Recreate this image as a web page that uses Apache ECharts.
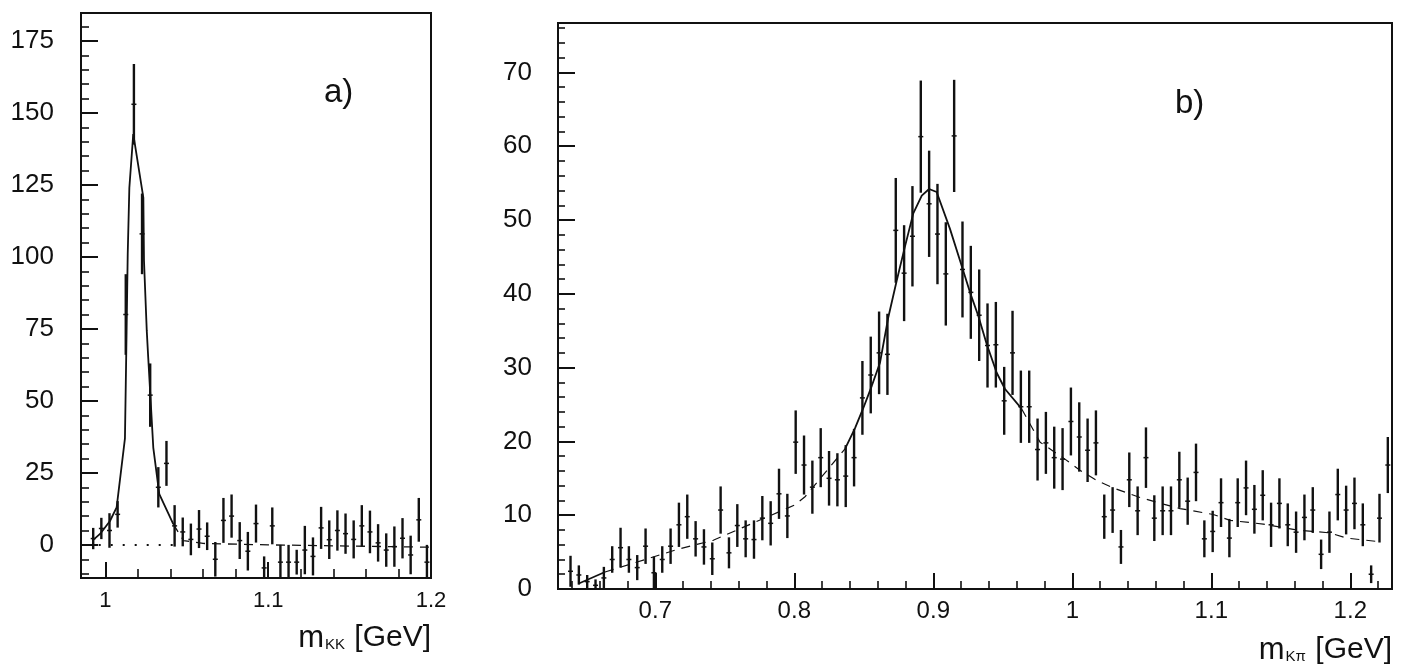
<!DOCTYPE html>
<html><head><meta charset="utf-8">
<script src="https://cdn.jsdelivr.net/npm/echarts@6/dist/echarts.min.js"></script>
<style>html,body{margin:0;padding:0;background:#fff}#c{width:1412px;height:668px}</style>
</head><body><div id="c"></div>
<script>
// ---------- Panel a: m_KK ----------
const massA = [0.9875,0.9925,0.9975,1.0025,1.0075,1.0125,1.0175,1.0225,1.0275,1.0325,
  1.0375,1.0425,1.0475,1.0525,1.0575,1.0625,1.0675,1.0725,1.0775,1.0825,
  1.0875,1.0925,1.0975,1.1025,1.1075,1.1125,1.1175,1.1225,1.1275,1.1325,
  1.1375,1.1425,1.1475,1.1525,1.1575,1.1625,1.1675,1.1725,1.1775,1.1825,
  1.1875,1.1925,1.1975];
const countsA = [null,2.2,5.7,5.0,10.6,80,153,108,52,20,
  28.3,6.6,4.5,1.9,5.5,3.0,-5.0,8.5,10.0,1.5,
  -2.2,7.4,-8.0,6.6,-6.0,-6.0,-6.0,-1.8,-4.0,5.9,
  1.8,5.0,3.9,1.9,6.6,4.5,0.7,-1.8,-0.6,2.3,
  -3.5,8.7,-6.0];
const errorsA = [null,3.7,3.7,6.0,4.6,14,14,14,11,7,
  7.8,7.2,5.0,5.5,6.6,4.8,6.0,7.8,7.5,6.4,
  6.7,6.6,4.0,6.4,6.0,6.0,4.3,8.4,6.6,7.3,
  6.7,7.0,7.0,6.6,7.2,7.4,6.5,5.8,7.0,7.0,
  6.7,7.6,6.0];
const fitPeakA = [[0.992,1.5],[0.9967,3.8],[1.0028,8.3],[1.0069,13],[1.0120,37],[1.0130,74],
  [1.0137,101],[1.0147,124],[1.0171,142.7],[1.0233,120.6],[1.0237,98.6],[1.0254,74.3],
  [1.0263,65],[1.0294,33.8],[1.0331,17.6],[1.0417,7.2]];
const fitTailA = [[1.0417,7.2],[1.048,1.5],[1.06,0.5],[1.1,0],[1.2,-0.8]];
const bkgA = [[0.9885,0],[1.0415,0]];
const xMajorA = [1, 1.1, 1.2];
const xMinorA = [1.02,1.04,1.06,1.08,1.12,1.14,1.16,1.18];
const yMajorA = [0,25,50,75,100,125,150,175];
const yMinorA = [-10,-5,5,10,15,20,30,35,40,45,55,60,65,70,80,85,90,95,105,110,115,120,130,135,140,145,155,160,165,170,180];

// ---------- Panel b: m_Kpi ----------
const massB = [0.633,0.639,0.645,0.651,0.657,0.663,0.669,0.675,0.681,0.687,
  0.693,0.699,0.705,0.711,0.717,0.723,0.729,0.735,0.741,0.747,
  0.753,0.759,0.765,0.771,0.777,0.783,0.789,0.795,0.801,0.807,
  0.813,0.819,0.825,0.831,0.837,0.843,0.849,0.855,0.861,0.867,
  0.873,0.879,0.885,0.891,0.897,0.903,0.909,0.915,0.921,0.927,
  0.933,0.939,0.945,0.951,0.957,0.963,0.969,0.975,0.981,0.987,
  0.993,0.999,1.005,1.011,1.017,1.023,1.029,1.035,1.041,1.047,
  1.053,1.059,1.065,1.071,1.077,1.083,1.089,1.095,1.101,1.107,
  1.113,1.119,1.125,1.131,1.137,1.143,1.149,1.155,1.161,1.167,
  1.173,1.179,1.185,1.191,1.197,1.203,1.209,1.215,1.221,1.227];
const countsB = [null,2.4,1.9,1.0,0.5,1.5,4.0,5.6,4.0,2.9,
  5.8,2.2,4.0,5.8,8.7,9.8,6.8,5.7,4.1,10.7,
  4.9,8.6,6.8,6.7,9.6,8.9,12.9,9.9,19.9,16.8,
  13.8,17.8,15.0,14.8,15.3,17.8,25.9,29.0,32.0,31.8,
  48.6,42.8,47.8,61.3,52.2,48.1,42.7,61.4,43.3,40.2,
  37.1,33.0,33.1,25.5,32.0,24.7,24.7,18.9,19.8,17.8,
  17.6,22.7,20.6,18.8,19.8,9.8,10.7,5.7,14.8,10.6,
  17.8,9.6,10.6,10.6,14.8,11.9,15.8,6.8,7.8,11.7,
  6.9,11.7,13.7,10.8,12.7,8.7,11.6,8.7,7.7,9.7,
  10.7,4.7,7.7,12.8,10.7,11.6,8.7,2.0,9.6,16.8];
const errorsB = [null,2.1,1.3,0.9,0.8,1.5,1.8,2.7,1.8,1.7,
  2.4,2.2,1.8,2.4,3.0,3.0,2.4,2.4,2.2,3.2,
  2.1,2.9,2.5,2.6,3.0,3.0,3.4,3.0,4.3,4.0,
  3.6,4.0,3.7,3.6,4.2,3.9,5.0,5.2,5.6,5.5,
  7.1,6.5,6.8,7.6,7.2,6.8,7.0,7.6,6.5,6.3,
  6.2,5.7,5.8,4.6,5.7,4.9,4.9,4.2,4.2,4.2,
  4.2,4.6,4.7,4.3,4.4,3.0,3.1,2.3,3.7,3.3,
  4.1,3.1,3.3,3.3,3.8,3.2,3.9,2.5,2.8,3.3,
  2.6,3.3,3.7,3.3,3.4,3.0,3.4,2.9,2.8,3.1,
  3.1,2.0,2.8,3.5,3.3,3.5,2.9,1.2,3.3,3.8];
const fitStartB = [[0.6446,0.7],[0.6638,2.3]];
const fitLowB = [[0.6638,2.3],[0.7165,5.4],[0.7417,6.6],[0.8005,11.4],[0.8077,12.5],[0.8365,19.0]];
const fitCoreB = [[0.8365,19.0],[0.8437,21.8],[0.8496,24.5],[0.8557,27.5],[0.8617,30.7],[0.8676,36.8],
  [0.8737,41.8],[0.8796,46.4],[0.8856,50.9],[0.8917,53.3],[0.897,54.2],[0.9024,53.8],[0.912,48.8],
  [0.9204,43.8],[0.9264,40.2],[0.9324,37],[0.9384,33.2],[0.9456,29.3],[0.9516,27.1],[0.9636,24.4]];
const fitHighB = [[0.9636,24.4],[0.9768,19.9],[0.9947,17.6],[1.0055,16.1],[1.0176,14.7],[1.0307,13.6],
  [1.0487,12.4],[1.0655,11.5],[1.0775,10.9],[1.1014,10.1],[1.1135,9.3],[1.1374,8.8],[1.1614,8.0],
  [1.1854,7.6],[1.1974,6.9],[1.2214,6.4]];
const xMajorB = [0.7,0.8,0.9,1,1.1,1.2];
const xMinorB = [0.64,0.66,0.68,0.72,0.74,0.76,0.78,0.82,0.84,0.86,0.88,0.92,0.94,0.96,0.98,1.02,1.04,1.06,1.08,1.12,1.14,1.16,1.18,1.22];
const yMajorB = [0,10,20,30,40,50,60,70];
const yMinorB = [2,4,6,8,12,14,16,18,22,24,26,28,32,34,36,38,42,44,46,48,52,54,56,58,62,64,66,68,72,74,76];

// ---------- drawing ----------
const INK = '#111';
const FONT = 'Liberation Sans';

function pts(mass, counts, errs){
  const out = [];
  for (let i = 0; i < mass.length; i++) if (counts[i] !== null) out.push([mass[i], counts[i], errs[i]]);
  return out;
}
function errBar(params, api){
  const x = api.value(0), v = api.value(1), e = api.value(2);
  const cs = params.coordSys;
  const p1 = api.coord([x, v + e]), p2 = api.coord([x, v - e]), pm = api.coord([x, v]);
  const top = Math.max(cs.y, p1[1]), bot = Math.min(cs.y + cs.height, p2[1]);
  const ch = [];
  if (bot > top) ch.push({type:'line', shape:{x1:p1[0], y1:top, x2:p1[0], y2:bot}, style:{stroke:INK, lineWidth:2.4}});
  if (pm[1] > cs.y && pm[1] < cs.y + cs.height)
    ch.push({type:'line', shape:{x1:pm[0]-2.5, y1:pm[1], x2:pm[0]+2.5, y2:pm[1]}, style:{stroke:INK, lineWidth:1.5}});
  return {type:'group', children:ch};
}
function axisPair(dim, gridIndex, min, max, major, minor, majLen, minLen, label){
  const pos = dim === 'x' ? 'bottom' : 'left';
  const main = {
    type:'value', gridIndex, min, max, position:pos,
    axisLine:{show:true, onZero:false, lineStyle:{color:INK, width:2}},
    axisTick:{show:true, inside:true, length:majLen, customValues:major, lineStyle:{color:INK, width:2}},
    axisLabel:Object.assign({show:true, customValues:major, color:INK, fontFamily:FONT}, label),
    splitLine:{show:false}, minorTick:{show:false}
  };
  const sub = {
    type:'value', gridIndex, min, max, position:pos, offset:0,
    axisLine:{show:false, onZero:false},
    axisTick:{show:true, inside:true, length:minLen, customValues:minor, lineStyle:{color:INK, width:1.6}},
    axisLabel:{show:false, customValues:minor},
    splitLine:{show:false}, minorTick:{show:false}
  };
  return [main, sub];
}

const chart = echarts.init(document.getElementById('c'), null, {renderer:'canvas'});
const gridStyle = {show:true, borderColor:INK, borderWidth:2, backgroundColor:'transparent', containLabel:false, outerBoundsMode:'none'};
const richTitle = {
  m:{fontSize:31, fontFamily:FONT, fill:INK, color:INK},
  s:{fontSize:15, fontFamily:FONT, fill:INK, color:INK, padding:[13,1,0,1]},
  g:{fontSize:30, fontFamily:FONT, fill:INK, color:INK}
};
const option = {
  animation:false,
  backgroundColor:'#fff',
  grid:[
    Object.assign({left:81, top:13, width:350, height:565}, gridStyle),
    Object.assign({left:558, top:23, width:834, height:566}, gridStyle)
  ],
  xAxis:[
    ...axisPair('x', 0, 0.985, 1.2, xMajorA, xMinorA, 16, 9, {fontSize:22, margin:12}),
    ...axisPair('x', 1, 0.63, 1.23, xMajorB, xMinorB, 16, 8, {fontSize:24, margin:10})
  ],
  yAxis:[
    ...axisPair('y', 0, -11.5, 184.7, yMajorA, yMinorA, 17, 8, {fontSize:26, margin:27}),
    ...axisPair('y', 1, 0, 76.7, yMajorB, yMinorB, 17, 7, {fontSize:26, margin:26})
  ],
  series:[
    {type:'custom', xAxisIndex:0, yAxisIndex:0, renderItem:errBar, data:pts(massA, countsA, errorsA), encode:{x:0, y:1}, z:2},
    {type:'line', xAxisIndex:0, yAxisIndex:0, data:bkgA, symbol:'none', lineStyle:{color:INK, width:2, type:[2,10]}, z:3},
    {type:'line', xAxisIndex:0, yAxisIndex:0, data:fitPeakA, symbol:'none', lineStyle:{color:INK, width:1.8}, z:3},
    {type:'line', xAxisIndex:0, yAxisIndex:0, data:fitTailA, symbol:'none', lineStyle:{color:INK, width:1.3, type:[9,7]}, z:3},
    {type:'custom', xAxisIndex:2, yAxisIndex:2, renderItem:errBar, data:pts(massB, countsB, errorsB), encode:{x:0, y:1}, z:2},
    {type:'line', xAxisIndex:2, yAxisIndex:2, data:fitStartB, symbol:'none', lineStyle:{color:INK, width:1.6}, z:3},
    {type:'line', xAxisIndex:2, yAxisIndex:2, data:fitLowB, symbol:'none', lineStyle:{color:INK, width:1.2, type:[9,7]}, z:3},
    {type:'line', xAxisIndex:2, yAxisIndex:2, data:fitCoreB, symbol:'none', lineStyle:{color:INK, width:1.8}, z:3},
    {type:'line', xAxisIndex:2, yAxisIndex:2, data:fitHighB, symbol:'none', lineStyle:{color:INK, width:1.2, type:[9,7]}, z:3}
  ],
  graphic:[
    {type:'text', x:324, y:93, style:{text:'a)', font:'33px "Liberation Sans"', fill:INK, textAlign:'left', textVerticalAlign:'middle', verticalAlign:'middle'}},
    {type:'text', x:1175, y:104, style:{text:'b)', font:'33px "Liberation Sans"', fill:INK, textAlign:'left', textVerticalAlign:'middle', verticalAlign:'middle'}},
    {type:'text', x:431, y:638, style:{text:'{m|m}{s|KK}{g| [GeV]}', textAlign:'right', textVerticalAlign:'middle', verticalAlign:'middle', fill:INK, rich:richTitle}},
    {type:'text', x:1392, y:650, style:{text:'{m|m}{s|Kπ}{g| [GeV]}', textAlign:'right', textVerticalAlign:'middle', verticalAlign:'middle', fill:INK, rich:richTitle}}
  ]
};
chart.setOption(option);
</script>
</body></html>
